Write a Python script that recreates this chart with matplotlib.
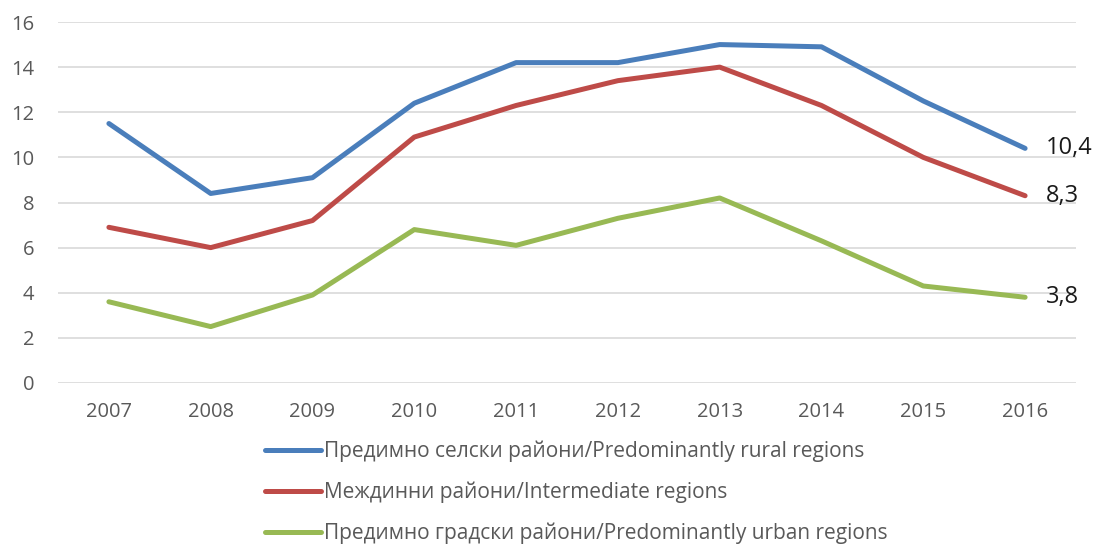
import matplotlib
matplotlib.use("Agg")
from matplotlib import pyplot as plt
import numpy as np

years = ["2007", "2008", "2009", "2010", "2011", "2012", "2013", "2014", "2015", "2016"]
rural = [11.5, 8.4, 9.1, 12.4, 14.2, 14.2, 15.0, 14.9, 12.5, 10.4]
intermediate = [6.9, 6.0, 7.2, 10.9, 12.3, 13.4, 14.0, 12.3, 10.0, 8.3]
urban = [3.6, 2.5, 3.9, 6.8, 6.1, 7.3, 8.2, 6.3, 4.3, 3.8]

labels = [
    "Предимно селски райони/Predominantly rural regions",
    "Междинни райони/Intermediate regions",
    "Предимно градски райони/Predominantly urban regions",
]
colors = ["#4A7EBB", "#BE4B48", "#98B954"]

plt.rcParams["font.family"] = ["Open Sans", "DejaVu Sans"]

fig = plt.figure(figsize=(10.96, 5.45), dpi=100)
ax = fig.add_axes([58 / 1096, 1 - 383 / 545, (1076 - 58) / 1096, (383 - 22) / 545])

x = np.arange(len(years))
lines = []
for vals, lab, c in zip([rural, intermediate, urban], labels, colors):
    ln, = ax.plot(x, vals, color=c, lw=3.6, solid_capstyle="round", label=lab, zorder=3)
    lines.append(ln)
    # label on the last point
    ax.annotate(f"{vals[-1]:.1f}".replace(".", ","), (x[-1], vals[-1]),
                xytext=(15, 0), textcoords="offset points", va="center", ha="left",
                fontsize=17, color="#1a1a1a")

ax.set_xlim(-0.5, len(years) - 0.5)
ax.set_ylim(0, 16)
ax.set_yticks(range(0, 17, 2))
ax.set_xticks(x)
ax.set_xticklabels(years)
ax.yaxis.grid(True, color="#D9D9D9", lw=1.2)
ax.set_axisbelow(True)
for s in ax.spines.values():
    s.set_visible(False)
ax.tick_params(length=0, labelsize=14.5, colors="#595959")
ax.tick_params(axis="y", pad=17)
ax.tick_params(axis="x", pad=14)

fig.legend(handles=lines, loc="upper left", bbox_to_anchor=(257 / 1096, 1 - 432 / 545),
           frameon=False, fontsize=15, labelcolor="#595959", handlelength=2.65,
           handletextpad=0.15, labelspacing=0.95, borderaxespad=0)

fig.savefig("out.png", dpi=100)
